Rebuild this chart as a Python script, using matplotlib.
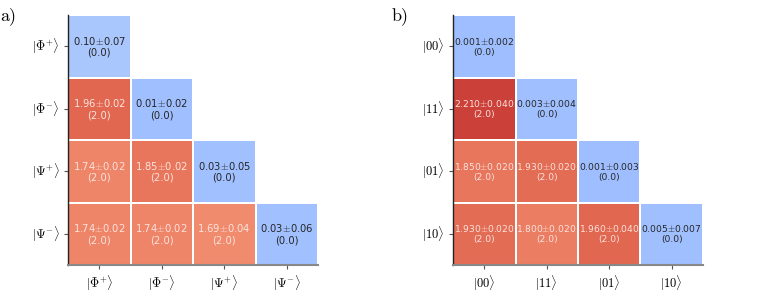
import numpy as np
import matplotlib
matplotlib.use("Agg")
import matplotlib.pyplot as plt
import seaborn as sns

plt.rcParams['mathtext.fontset'] = 'cm'

labels_a = [r'$|\Phi^{+}\rangle$', r'$|\Phi^{-}\rangle$', r'$|\Psi^{+}\rangle$', r'$|\Psi^{-}\rangle$']
labels_b = [r'$|00\rangle$', r'$|11\rangle$', r'$|01\rangle$', r'$|10\rangle$']

vals_a = [[0.10, 0, 0, 0],
          [1.96, 0.01, 0, 0],
          [1.74, 1.85, 0.03, 0],
          [1.74, 1.74, 1.69, 0.03]]
errs_a = [[0.07, 0, 0, 0],
          [0.02, 0.02, 0, 0],
          [0.02, 0.02, 0.05, 0],
          [0.02, 0.02, 0.04, 0.06]]
vals_b = [[0.001, 0, 0, 0],
          [2.210, 0.003, 0, 0],
          [1.850, 1.930, 0.001, 0],
          [1.930, 1.800, 1.960, 0.005]]
errs_b = [[0.002, 0, 0, 0],
          [0.040, 0.004, 0, 0],
          [0.020, 0.020, 0.003, 0],
          [0.020, 0.020, 0.040, 0.007]]
expected = [[0.0, 0, 0, 0],
            [2.0, 0.0, 0, 0],
            [2.0, 2.0, 0.0, 0],
            [2.0, 2.0, 2.0, 0.0]]

fig = plt.figure(figsize=(7.72, 2.94), dpi=100)
ax_a = fig.add_axes([68/772, 29/294, 250/772, 250/294])
ax_b = fig.add_axes([453/772, 29/294, 250/772, 250/294])

def draw(ax, vals, errs, labels, dec, fs):
    v = np.array(vals, dtype=float)
    e = np.array(errs, dtype=float)
    ex = np.array(expected, dtype=float)
    n = v.shape[0]
    mask = np.triu(np.ones((n, n), dtype=bool), k=1)
    annot = np.empty((n, n), dtype=object)
    for i in range(n):
        for j in range(n):
            annot[i, j] = f"{v[i,j]:.{dec}f}$\\pm${e[i,j]:.{dec}f}\n({ex[i,j]:.1f})"
    sns.heatmap(v, mask=mask, cmap='coolwarm', vmin=-1.05, vmax=2.45, cbar=False,
                annot=annot, fmt='', linewidths=1.2, linecolor='white', ax=ax,
                annot_kws={'fontsize': fs, 'fontfamily': 'DejaVu Sans',
                           'linespacing': 1.15}, square=False)
    for t in ax.texts:
        c = matplotlib.colors.to_rgb(t.get_color())
        if c == (1.0, 1.0, 1.0):
            t.set_color('#fbe3dc')
    ax.set_xticks(np.arange(n) + 0.5)
    ax.set_yticks(np.arange(n) + 0.5)
    ax.set_xticklabels(labels, rotation=0, fontsize=9)
    ax.set_yticklabels(labels, rotation=0, fontsize=9)
    for s in ['top', 'right']:
        ax.spines[s].set_visible(False)
    ax.spines['left'].set_visible(True)
    ax.spines['bottom'].set_visible(True)
    ax.spines['left'].set_color('#222222')
    ax.spines['left'].set_linewidth(1.0)
    ax.spines['bottom'].set_color('#888888')
    ax.spines['bottom'].set_linewidth(1.5)
    ax.tick_params(axis='both', length=3, width=0.8, color='#555555', pad=3)

draw(ax_a, vals_a, errs_a, labels_a, 2, 7.2)
draw(ax_b, vals_b, errs_b, labels_b, 3, 6.6)

fig.text(0.0, 0.975, 'a)', fontsize=13, family='cmr10', va='top', ha='left')
fig.text(392/772, 0.975, 'b)', fontsize=13, family='cmr10', va='top', ha='left')

fig.savefig('out.png', dpi=100)
